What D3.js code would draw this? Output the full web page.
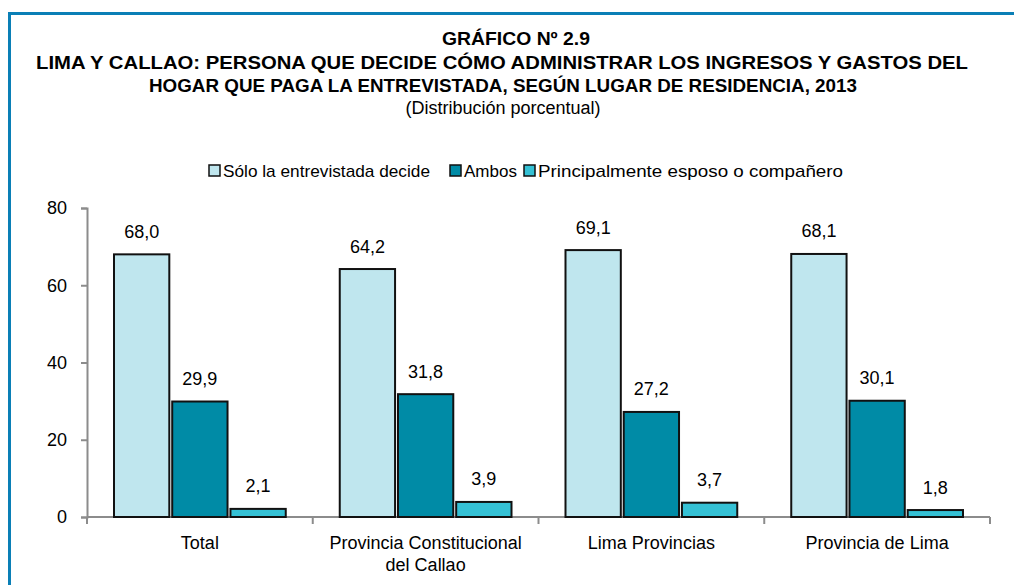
<!DOCTYPE html>
<html>
<head>
<meta charset="utf-8">
<script src="https://cdn.jsdelivr.net/npm/d3@7"></script>
<style>
body{margin:0;background:#fff;}
svg text{font-family:"Liberation Sans Narrow","Arial Narrow","Liberation Sans",sans-serif;fill:#000;}
</style>
</head>
<body>
<svg id="chart"></svg>
<script>
var w=1014;
var h=585;
var categories=[["Total"],["Provincia Constitucional","del Callao"],["Lima Provincias"],["Provincia de Lima"]];
var series=["Sólo la entrevistada decide","Ambos","Principalmente esposo o compañero"];
var colors=["#bfe6ee","#008ba6","#35c1d5"];
var solo=[68.0,64.2,69.1,68.1];
var ambos=[29.9,31.8,27.2,30.1];
var principal=[2.1,3.9,3.7,1.8];
var yTicks=[0,20,40,60,80];
var titles=["GRÁFICO Nº 2.9","LIMA Y CALLAO: PERSONA QUE DECIDE CÓMO ADMINISTRAR LOS INGRESOS Y GASTOS DEL","HOGAR QUE PAGA LA ENTREVISTADA, SEGÚN LUGAR DE RESIDENCIA, 2013"];
var subtitle="(Distribución porcentual)";

var margin={left:87,right:24,top:208,bottom:68};
var values=[solo,ambos,principal];

var svg=d3.select("#chart")
          .attr("width",w)
          .attr("height",h);

// frame
svg.append("path")
   .attr("d","M9.5,"+h+"V13.5H"+w)
   .attr("fill","none")
   .attr("stroke","#0a7fb6")
   .attr("stroke-width",3);

// titles (widths matched to the narrow font of the original)
var titleX=[516,502,503];
var titleLen=[148,932,708];
svg.selectAll(".title")
   .data(titles)
   .enter()
   .append("text")
   .attr("x",function(d,i){return titleX[i];})
   .attr("y",function(d,i){return 45+i*23.5;})
   .attr("text-anchor","middle")
   .attr("textLength",function(d,i){return titleLen[i];})
   .attr("lengthAdjust","spacingAndGlyphs")
   .style("font-weight","bold")
   .style("font-size","19px")
   .text(function(d){return d;});
svg.append("text")
   .attr("x",503)
   .attr("y",114)
   .attr("text-anchor","middle")
   .style("font-size","18px")
   .text(subtitle);

var xScale=d3.scaleBand()
             .domain(d3.range(categories.length))
             .range([margin.left,w-margin.right]);
var x1=d3.scaleBand()
         .domain(d3.range(series.length))
         .range([27,xScale.bandwidth()-27])
         .paddingInner(0.05);
var yScale=d3.scaleLinear()
             .domain([0,80])
             .range([h-margin.bottom,margin.top]);

// axes
var yAxis=d3.axisLeft(yScale).tickValues(yTicks).tickSize(6).tickPadding(14);
var gy=svg.append("g")
   .attr("transform","translate("+margin.left+",0)")
   .call(yAxis);
gy.select(".domain").attr("stroke","#8c8c8c").attr("stroke-width",2);
gy.selectAll(".tick line").attr("stroke","#8c8c8c").attr("stroke-width",2);
gy.selectAll(".tick text").style("font-size","18px").attr("fill","#000");

var gx=svg.append("g")
   .attr("transform","translate(0,"+(h-margin.bottom)+")");
gx.append("line")
  .attr("x1",margin.left).attr("x2",w-margin.right)
  .attr("stroke","#8c8c8c").attr("stroke-width",2);
gx.selectAll(".xt")
  .data(d3.range(categories.length+1))
  .enter()
  .append("line")
  .attr("x1",function(d){return margin.left+d*xScale.step();})
  .attr("x2",function(d){return margin.left+d*xScale.step();})
  .attr("y1",0).attr("y2",7)
  .attr("stroke","#8c8c8c").attr("stroke-width",2);

// bars
var groups=svg.selectAll(".grp")
   .data(categories)
   .enter()
   .append("g")
   .attr("transform",function(d,i){return "translate("+xScale(i)+",0)";});
groups.each(function(c,ci){
  var g=d3.select(this);
  g.selectAll("rect")
   .data(values.map(function(v){return v[ci];}))
   .enter()
   .append("rect")
   .attr("x",function(d,si){return x1(si);})
   .attr("y",function(d){return yScale(d);})
   .attr("width",x1.bandwidth())
   .attr("height",function(d){return yScale(0)-yScale(d);})
   .attr("fill",function(d,si){return colors[si];})
   .attr("stroke","#111")
   .attr("stroke-width",2);
  g.selectAll(".val")
   .data(values.map(function(v){return v[ci];}))
   .enter()
   .append("text")
   .attr("x",function(d,si){return x1(si)+x1.bandwidth()/2;})
   .attr("y",function(d){return yScale(d)-16.5;})
   .attr("text-anchor","middle")
   .style("font-size","18px")
   .text(function(d){return d.toFixed(1).replace(".",",");});
  g.append("text")
   .attr("x",xScale.bandwidth()/2)
   .attr("y",h-margin.bottom+32)
   .attr("text-anchor","middle")
   .style("font-size","18px")
   .selectAll("tspan")
   .data(c)
   .enter()
   .append("tspan")
   .attr("x",xScale.bandwidth()/2)
   .attr("dy",function(d,i){return i==0?0:22;})
   .text(function(d){return d;});
});

// legend
var legX=[209,450,524];
var legLen=[207,null,305];
var leg=svg.selectAll(".leg")
   .data(series)
   .enter()
   .append("g")
   .attr("transform",function(d,i){return "translate("+legX[i]+",165)";});
leg.append("rect")
   .attr("width",11).attr("height",11)
   .attr("fill",function(d,i){return colors[i];})
   .attr("stroke","#111").attr("stroke-width",1.5);
leg.append("text")
   .attr("x",14).attr("y",12)
   .attr("textLength",function(d,i){return legLen[i];})
   .attr("lengthAdjust",function(d,i){return legLen[i]?"spacingAndGlyphs":null;})
   .style("font-size","17px")
   .text(function(d){return d;});
</script>
</body>
</html>
